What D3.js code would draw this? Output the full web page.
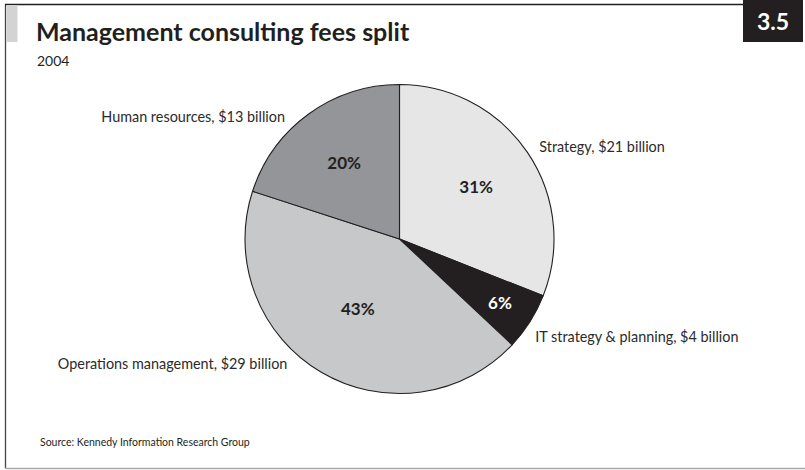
<!DOCTYPE html>
<html>
<head>
<meta charset="utf-8">
<script src="https://cdn.jsdelivr.net/npm/d3@7"></script>
<style>
  html, body { margin: 0; padding: 0; background: #fff; }
  svg { display: block; }
  text { font-family: Lato, "Open Sans", sans-serif; fill: #231f20; }
</style>
</head>
<body>
<svg id="chart" width="805" height="470"></svg>
<script>
// ---- data ----
const categories = ["Strategy", "IT strategy & planning", "Operations management", "Human resources"];
const billions = [21, 4, 29, 13];
const shares = [31, 6, 43, 20];
const title = "Management consulting fees split";
const subtitle = "2004";
const source = "Source: Kennedy Information Research Group";
const badge = "3.5";

// ---- styles / layout ----
const fills = ["#e6e6e7", "#231f20", "#c7c8ca", "#939598"];
const pctColors = ["#231f20", "#ffffff", "#231f20", "#231f20"];
const pctRadius = [0.6, 0.77, 0.53, 0.61];     // fraction of R
const labelAngle = [56.5, 125.9, 222, 316.9];   // degrees clockwise from top
const labelRadius = 1.085;                      // fraction of R
const W = 805, H = 470;
const cx = 399.5, cy = 239, R = 154.5;

const svg = d3.select("#chart");

// frame
svg.append("line").attr("x1", 5.5).attr("x2", 5.5).attr("y1", 4).attr("y2", 468)
  .attr("stroke", "#444").attr("stroke-width", 1.3);
svg.append("line").attr("x1", 5).attr("x2", 743).attr("y1", 4.5).attr("y2", 4.5)
  .attr("stroke", "#231f20").attr("stroke-width", 1.5);
svg.append("line").attr("x1", 5).attr("x2", 805).attr("y1", 468.5).attr("y2", 468.5)
  .attr("stroke", "#aaaaaa").attr("stroke-width", 1.5);
svg.append("rect").attr("x", 6.5).attr("y", 5).attr("width", 11).attr("height", 37).attr("fill", "#d3d3d4");

// badge
svg.append("rect").attr("x", 743).attr("y", 0).attr("width", 60).attr("height", 42).attr("fill", "#231f20");
svg.append("text").attr("x", 773).attr("y", 30).attr("text-anchor", "middle")
  .style("font-size", "23px").style("font-weight", 700).style("fill", "#fff").text(badge);

// titles
svg.append("text").attr("x", 36).attr("y", 41).style("font-size", "25px").style("font-weight", 700).text(title);
svg.append("text").attr("x", 37).attr("y", 66).style("font-size", "14px").text(subtitle);
svg.append("text").attr("x", 40).attr("y", 446).style("font-size", "10.5px").text(source);

// pie
const pie = d3.pie().sort(null).value(d => d.share);
const data = categories.map((c, i) => ({ name: c, billions: billions[i], share: shares[i], i }));
const arcs = pie(data);
const arc = d3.arc().innerRadius(0).outerRadius(R);
const g = svg.append("g").attr("transform", `translate(${cx},${cy})`);

g.selectAll("path.slice").data(arcs).join("path")
  .attr("class", "slice")
  .attr("d", arc)
  .attr("fill", d => fills[d.data.i])
  .attr("stroke", "#231f20").attr("stroke-width", 1.1).attr("stroke-linejoin", "round");

// percent labels
g.selectAll("text.pct").data(arcs).join("text")
  .attr("class", "pct")
  .attr("transform", d => {
    const a = (d.startAngle + d.endAngle) / 2;
    const r = R * pctRadius[d.data.i];
    return `translate(${r * Math.sin(a)},${-r * Math.cos(a)})`;
  })
  .attr("text-anchor", "middle").attr("dy", "0.35em")
  .style("font-size", "17px").style("font-weight", 700)
  .style("fill", d => pctColors[d.data.i])
  .text(d => d.data.share + "%");

// outside labels
g.selectAll("text.lab").data(arcs).join("text")
  .attr("class", "lab")
  .attr("transform", d => {
    const a = labelAngle[d.data.i] * Math.PI / 180;
    const r = R * labelRadius;
    return `translate(${r * Math.sin(a)},${-r * Math.cos(a)})`;
  })
  .attr("text-anchor", d => labelAngle[d.data.i] < 180 ? "start" : "end")
  .attr("dy", "0.35em")
  .style("font-size", "14.4px")
  .style("fill", "#2b2b2b")
  .text(d => `${d.data.name}, $${d.data.billions} billion`);
</script>
</body>
</html>
